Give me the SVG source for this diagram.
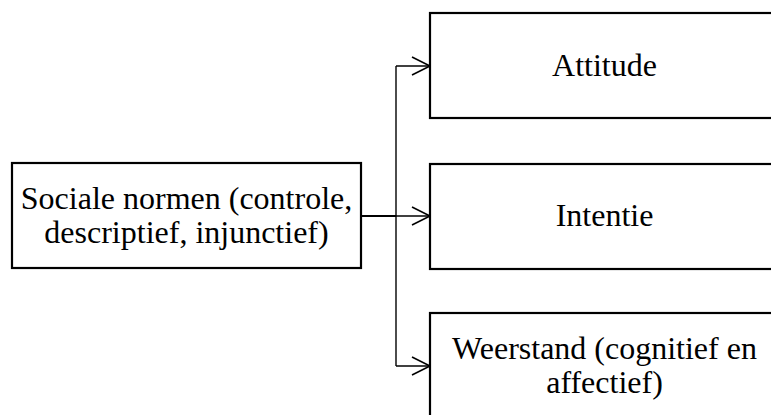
<svg xmlns="http://www.w3.org/2000/svg" width="771" height="415" viewBox="0 0 771 415">
  <style>
    .box { fill: #ffffff; stroke: #000000; stroke-width: 2.2; }
    .lbl { font-family: "Liberation Serif", "Times New Roman", serif; font-size: 32px; fill: #000000; text-anchor: middle; }
    .conn { fill: none; stroke: #000000; stroke-width: 1.4; }
    .stem { fill: none; stroke: #000000; stroke-width: 2.2; }
  </style>
  <defs>
    <marker id="open" markerUnits="userSpaceOnUse" markerWidth="22" markerHeight="22" refX="19" refY="10" orient="auto">
      <path d="M1,1 L19,10 L1,19" fill="none" stroke="#000000" stroke-width="1.6"/>
    </marker>
  </defs>
  <rect width="771" height="415" fill="#ffffff"/>
  <g id="connectors">
    <path class="stem" d="M361,216 L396,216"/>
    <path class="conn" d="M396,66 L396,366"/>
    <path class="conn" d="M396,66 L430,66" marker-end="url(#open)"/>
    <path class="conn" d="M396,216 L430,216" marker-end="url(#open)"/>
    <path class="conn" d="M396,366 L430,366" marker-end="url(#open)"/>
  </g>
  <g id="sociale-normen">
    <rect class="box" x="12" y="163" width="349" height="105"/>
    <text class="lbl" x="186.5" y="209">Sociale normen (controle,</text>
    <text class="lbl" x="186.5" y="243">descriptief, injunctief)</text>
  </g>
  <g id="attitude">
    <rect class="box" x="430" y="13" width="349" height="105"/>
    <text class="lbl" x="604.5" y="76">Attitude</text>
  </g>
  <g id="intentie">
    <rect class="box" x="430" y="164" width="349" height="105"/>
    <text class="lbl" x="604.5" y="226">Intentie</text>
  </g>
  <g id="weerstand">
    <rect class="box" x="430" y="313" width="349" height="105"/>
    <text class="lbl" x="604.5" y="359">Weerstand (cognitief en</text>
    <text class="lbl" x="604.5" y="393">affectief)</text>
  </g>
</svg>
